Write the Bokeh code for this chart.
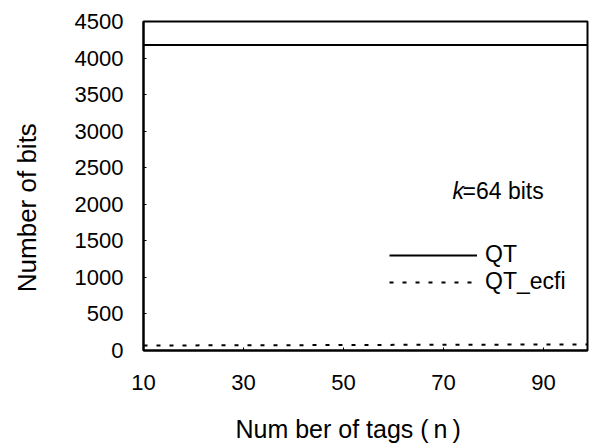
from bokeh.plotting import figure
from bokeh.models import Range1d, Legend, LegendItem, Label, FixedTicker
from bokeh.embed import file_html
from bokeh.resources import INLINE

# Data
n_tags = [10, 20, 30, 40, 50, 60, 70, 80, 90, 100]
qt_bits = [4180, 4180, 4180, 4180, 4180, 4180, 4180, 4180, 4180, 4180]
qt_ecfi_bits = [68, 70, 72, 73, 75, 77, 78, 80, 82, 84]
x_ticks = [10, 30, 50, 70, 90]
y_ticks = [0, 500, 1000, 1500, 2000, 2500, 3000, 3500, 4000, 4500]

FONT = "Liberation Sans"
NB = "\u00a0"

p = figure(width=590, height=445, output_backend="svg", toolbar_location=None,
           x_range=Range1d(10, 98.8), y_range=Range1d(0, 4500),
           min_border_left=143, min_border_right=3, min_border_top=21, min_border_bottom=95)

p.background_fill_color = "white"
p.border_fill_color = "white"
p.outline_line_color = "black"
p.outline_line_width = 2
p.xgrid.visible = False
p.ygrid.visible = False

r1 = p.line(n_tags, qt_bits, line_color="black", line_width=2)
r2 = p.line(n_tags, qt_ecfi_bits, line_color="black", line_width=2, line_dash="4 9")

for ax in (p.xaxis[0], p.yaxis[0]):
    ax.axis_line_color = "black"
    ax.axis_line_width = 2
    ax.major_tick_in = 3
    ax.major_tick_out = 0
    ax.major_tick_line_width = 1
    ax.minor_tick_line_color = None
    ax.major_label_text_font = FONT
    ax.major_label_text_font_size = "22px"
    ax.major_label_text_color = "black"
    ax.axis_label_text_font = FONT
    ax.axis_label_text_font_style = "normal"
    ax.axis_label_text_color = "black"

p.xaxis.ticker = FixedTicker(ticks=x_ticks)
p.yaxis.ticker = FixedTicker(ticks=y_ticks)
p.xaxis.major_label_standoff = 24
p.yaxis.major_label_standoff = 20
p.xaxis.axis_label = "Num ber of tags (\u2009n\u2009)" + NB * 5
p.yaxis.axis_label = "Number of bits" + NB * 6
p.xaxis.axis_label_text_font_size = "25px"
p.yaxis.axis_label_text_font_size = "26px"
p.xaxis.axis_label_standoff = 22
p.yaxis.axis_label_standoff = 30

legend = Legend(items=[LegendItem(label="QT", renderers=[r1]),
                       LegendItem(label="QT_ecfi", renderers=[r2])],
                location=(246, 55), orientation="vertical")
legend.glyph_width = 88
legend.glyph_height = 20
legend.label_height = 20
legend.label_standoff = 8
legend.spacing = -7
legend.padding = 0
legend.margin = 0
legend.border_line_color = None
legend.background_fill_alpha = 0
legend.label_text_font = FONT
legend.label_text_font_size = "23px"
legend.label_text_color = "black"
p.add_layout(legend)

p.add_layout(Label(x=71.8, y=2188, text="k", text_font=FONT, text_font_size="23px",
                   text_font_style="italic", text_baseline="middle", text_color="black"))
p.add_layout(Label(x=73.8, y=2188, text="=64 bits", text_font=FONT, text_font_size="23px",
                   text_baseline="middle", text_color="black"))

open("out.html", "w").write(file_html(p, INLINE))
